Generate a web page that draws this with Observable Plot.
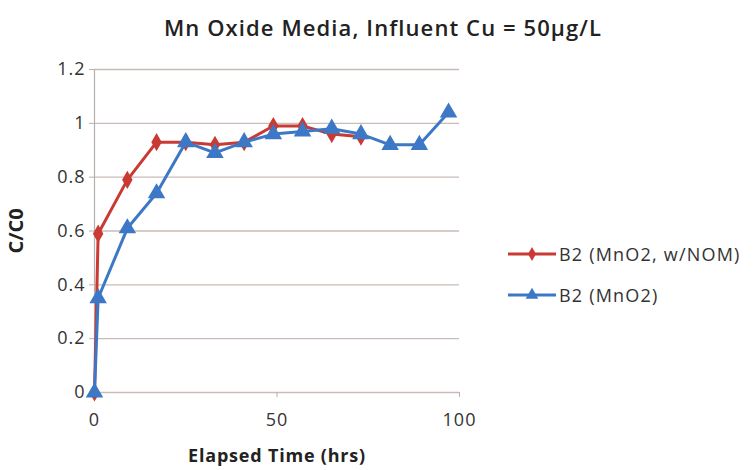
<!DOCTYPE html>
<html>
<head>
<meta charset="utf-8">
<script src="https://cdn.jsdelivr.net/npm/d3@7"></script>
<script src="https://cdn.jsdelivr.net/npm/@observablehq/plot@0.6"></script>
<style>
  body { margin: 0; background: #fff; font-family: "Open Sans", Lato, sans-serif; }
  #wrap { position: relative; width: 756px; height: 470px; overflow: hidden; }
  #title { position: absolute; left: 0; top: 12px; width: 766px; text-align: center; font-size: 22px; font-weight: 600; color: #222; letter-spacing: 1.1px; }
  #chart { position: absolute; left: 0; top: 50px; }
  .leg { position: absolute; left: 506px; font-size: 18px; color: #333; display: flex; align-items: center; white-space: nowrap; letter-spacing: 1.2px; }
  .leg svg { margin-right: 1px; }
</style>
</head>
<body>
<div id="wrap">
  <div id="title">Mn Oxide Media, Influent Cu = 50µg/L</div>
  <div id="chart"></div>
  <div class="leg" id="leg1" style="top:242px"></div>
  <div class="leg" id="leg2" style="top:283px"></div>
</div>
<script>
// Elapsed time (hrs)
const timeNOM = [0, 1, 9, 17, 25, 33, 41, 49, 57, 65, 73];
const valueNOM = [0, 0.59, 0.79, 0.93, 0.93, 0.92, 0.93, 0.99, 0.99, 0.96, 0.95];
const timeMnO2 = [0, 1, 9, 17, 25, 33, 41, 49, 57, 65, 73, 81, 89, 97];
const valueMnO2 = [0, 0.35, 0.61, 0.74, 0.93, 0.89, 0.93, 0.96, 0.97, 0.98, 0.96, 0.92, 0.92, 1.04];
const seriesNames = ["B2 (MnO2, w/NOM)", "B2 (MnO2)"];
const xTicks = [0, 50, 100];
const yTicks = [0, 0.2, 0.4, 0.6, 0.8, 1, 1.2];

const red = "#c93a35";
const blue = "#3d78c6";

const nom = timeNOM.map((t, i) => ({t, v: valueNOM[i], s: seriesNames[0]}));
const mno2 = timeMnO2.map((t, i) => ({t, v: valueMnO2[i], s: seriesNames[1]}));

const chart = Plot.plot({
  width: 756,
  height: 420,
  marginLeft: 94,
  marginRight: 297,
  marginTop: 19,
  marginBottom: 78,
  style: {fontFamily: "'Open Sans', Lato, sans-serif", fontSize: "18px", color: "#333", background: "transparent"},
  x: {domain: [0, 100]},
  y: {domain: [0, 1.2]},
  marks: [
    Plot.gridY(yTicks, {stroke: "#c9bcb6", strokeOpacity: 1, strokeWidth: 1.3}),
    Plot.ruleX([0], {stroke: "#b8b0ac", strokeWidth: 1.2}),
    Plot.axisY(yTicks, {
      tickSize: 5, tickPadding: 4, stroke: "#b8b0ac", fontSize: 18,
      tickFormat: d3.format("~g"),
      label: "C/C0", labelAnchor: "center", labelArrow: "none", labelOffset: 86
    }),
    Plot.axisX(xTicks, {
      tickSize: 5, tickPadding: 16, stroke: "#b8b0ac", fontSize: 18,
      label: "Elapsed Time (hrs)", labelAnchor: "center", labelArrow: "none", labelOffset: 69
    }),
    Plot.line(nom, {x: "t", y: "v", stroke: red, strokeWidth: 3}),
    Plot.dot(nom, {x: "t", y: "v", symbol: "diamond", fill: red, r: 5.5}),
    Plot.line(mno2, {x: "t", y: "v", stroke: blue, strokeWidth: 3}),
    Plot.dot(mno2, {x: "t", y: "v", symbol: "triangle", fill: blue, r: 6.5})
  ]
});
d3.select(chart).selectAll("[aria-label='y-axis tick label'] text, [aria-label='x-axis tick label'] text")
  .style("letter-spacing", "1px");
d3.select(chart).selectAll("[aria-label='y-axis label'] text")
  .style("font-weight", "700").style("font-size", "20px").style("fill", "#222");
d3.select(chart).selectAll("[aria-label='x-axis label'] text")
  .style("font-weight", "700").style("font-size", "18px").style("fill", "#222").style("letter-spacing", "0.8px");
document.getElementById("chart").appendChild(chart);

function legendItem(el, color, sym, name) {
  const s = d3.create("svg").attr("width", 52).attr("height", 16);
  s.append("line").attr("x1", 2).attr("x2", 50).attr("y1", 8).attr("y2", 8)
    .attr("stroke", color).attr("stroke-width", 3);
  s.append("path").attr("transform", "translate(26,8)")
    .attr("d", d3.symbol(sym, sym === d3.symbolTriangle ? 70 : 55)()).attr("fill", color);
  el.appendChild(s.node());
  const span = document.createElement("span");
  span.textContent = name;
  el.appendChild(span);
}
legendItem(document.getElementById("leg1"), red, d3.symbolDiamond, seriesNames[0]);
legendItem(document.getElementById("leg2"), blue, d3.symbolTriangle, seriesNames[1]);
</script>
</body>
</html>
